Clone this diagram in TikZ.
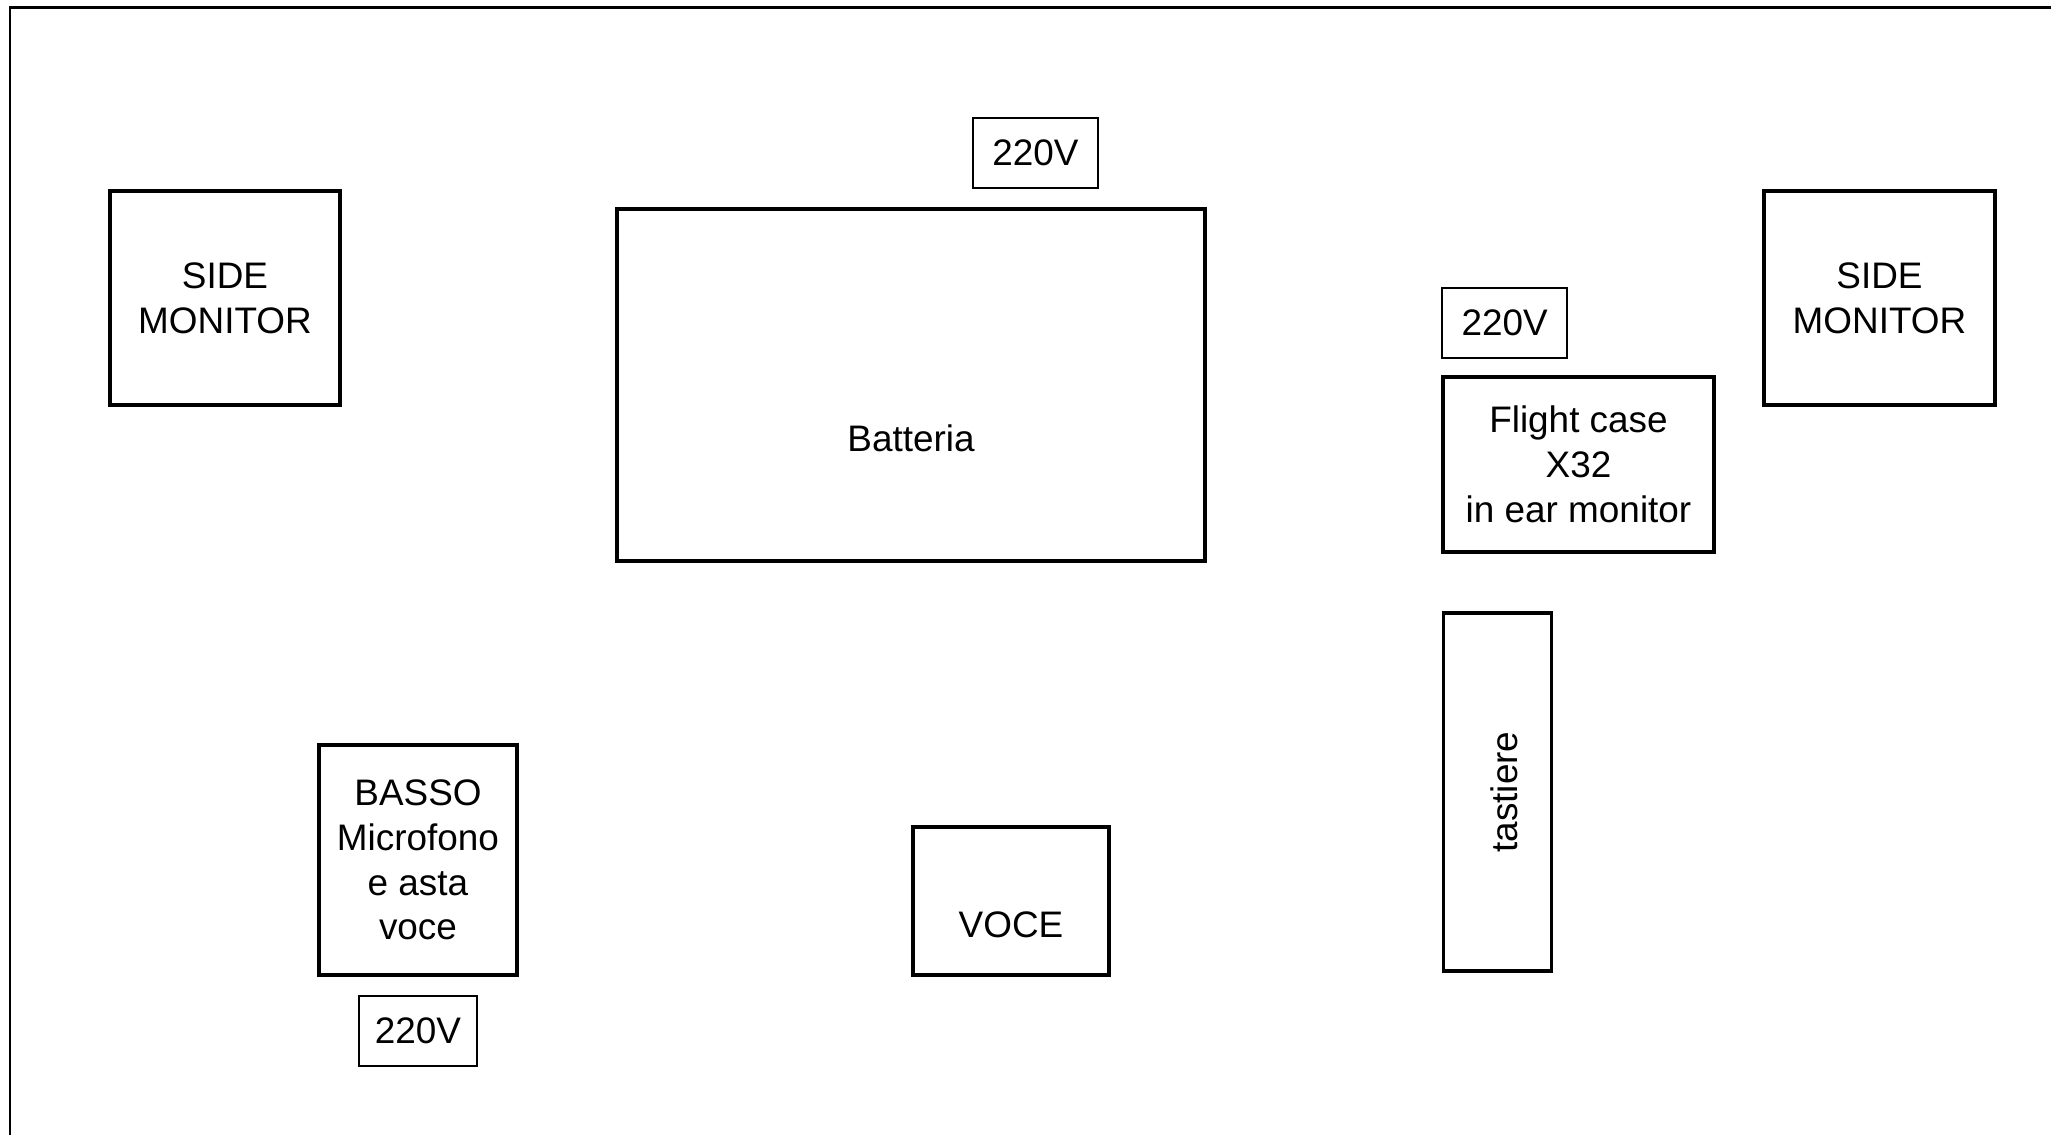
\documentclass[tikz,border=0pt]{standalone}
\usepackage{fontspec}
\setmainfont{Liberation Sans}
\usepackage{tikz}
\usetikzlibrary{positioning}

\tikzset{
  stagebox/.style={draw, line width=2.2pt, inner sep=0pt, align=center},
  power/.style={draw, line width=1.2pt, inner sep=0pt, minimum width=2.5cm, minimum height=1.4cm},
  label/.style={inner sep=0pt, align=center}
}

\begin{document}
\begin{tikzpicture}[font=\fontsize{21}{25.5}\selectfont]
    \useasboundingbox (0,0) rectangle (41.02,-22.7);
    \draw[line width=1.7pt] (0.2,-22.7) -- (0.2,-0.16) -- (41.02,-0.16);

    \node (smleft) [stagebox, minimum width=4.6cm, minimum height=4.28cm] at (4.5,-5.96) {SIDE\\MONITOR};
    \node (smright) [stagebox, minimum width=4.62cm, minimum height=4.28cm] at (37.59,-5.96) {SIDE\\MONITOR};

    \node (batteria) [stagebox, minimum width=11.76cm, minimum height=7.04cm] at (18.22,-7.7) {};
    \node (batttxt) [label] at (18.22,-8.76) {Batteria};
    \node (pwrtop) [power] at (20.71,-3.06) {220V};

    \node (flight) [stagebox, minimum width=5.42cm, minimum height=3.5cm] at (31.57,-9.29) {Flight case\\X32\\in ear monitor};
    \node (pwrright) [power, above right=0.32cm and 0cm of flight.north west] {220V};
    \node (tastiere) [stagebox, minimum width=2.16cm, minimum height=7.16cm] at (29.95,-15.84) {};
    \node (tasttxt) [label, rotate=90] at (30.08,-15.84) {tastiere};

    \node (basso) [stagebox, minimum width=3.96cm, minimum height=4.6cm] at (8.36,-17.2) {BASSO\\Microfono\\e asta\\voce};
    \node (pwrbottom) [power, below=0.36cm of basso, minimum width=2.36cm] {220V};

    \node (voce) [stagebox, minimum width=3.92cm, minimum height=2.96cm] at (20.22,-18.02) {};
    \node (vocetxt) [label] at (20.22,-18.5) {VOCE};
\end{tikzpicture}
\end{document}
